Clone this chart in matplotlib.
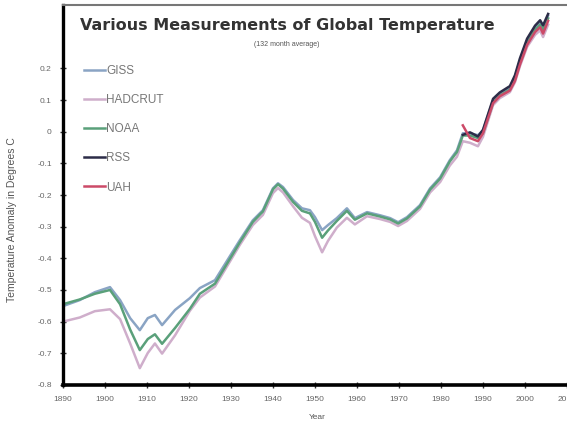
import matplotlib.pyplot as plt

# 132 month running averages
years = [1890.0, 1894.0, 1897.6, 1901.2, 1903.6, 1906.0, 1908.3, 1910.2, 1911.9, 1913.6,
         1916.7, 1920.2, 1922.6, 1926.2, 1932.1, 1935.2, 1937.6, 1940.0, 1941.2, 1942.4,
         1944.8, 1946.9, 1948.8, 1950.0, 1951.7, 1953.1, 1955.2, 1957.6, 1959.5, 1962.4,
         1965.5, 1967.9, 1969.8, 1971.9, 1975.0, 1977.4, 1979.8, 1982.1, 1983.8, 1985.2,
         1986.9, 1988.8, 1990.0, 1992.4, 1994.0, 1996.4, 1997.6, 1998.8, 2000.5, 2002.4,
         2003.6, 2004.3, 2005.5]

giss = [-0.551, -0.532, -0.507, -0.491, -0.532, -0.589, -0.627, -0.589, -0.579, -0.611,
        -0.563, -0.526, -0.494, -0.469, -0.343, -0.280, -0.248, -0.179, -0.163, -0.175,
        -0.216, -0.242, -0.248, -0.270, -0.311, -0.295, -0.273, -0.242, -0.273, -0.254,
        -0.264, -0.273, -0.286, -0.270, -0.232, -0.179, -0.144, -0.090, -0.059, -0.005,
        -0.005, -0.011, 0.004, 0.099, 0.121, 0.140, 0.172, 0.225, 0.288, 0.329,
        0.345, 0.329, 0.367]

hadcrut = [-0.600, -0.587, -0.567, -0.561, -0.592, -0.669, -0.747, -0.699, -0.669, -0.701,
           -0.643, -0.566, -0.524, -0.489, -0.358, -0.295, -0.263, -0.194, -0.178, -0.192,
           -0.236, -0.272, -0.288, -0.330, -0.381, -0.345, -0.303, -0.272, -0.293, -0.267,
           -0.276, -0.285, -0.298, -0.282, -0.244, -0.192, -0.159, -0.107, -0.079, -0.030,
           -0.035, -0.046, -0.016, 0.084, 0.106, 0.125, 0.156, 0.207, 0.268, 0.306,
           0.320, 0.299, 0.338]

noaa = [-0.545, -0.530, -0.512, -0.500, -0.545, -0.625, -0.690, -0.655, -0.640, -0.670,
        -0.620, -0.560, -0.512, -0.480, -0.350, -0.285, -0.252, -0.182, -0.166, -0.180,
        -0.222, -0.250, -0.258, -0.285, -0.335, -0.312, -0.282, -0.250, -0.278, -0.258,
        -0.268, -0.277, -0.290, -0.274, -0.236, -0.183, -0.148, -0.094, -0.064, -0.012,
        -0.012, -0.020, -0.004, 0.092, 0.114, 0.133, 0.165, 0.218, 0.280, 0.322,
        0.338, 0.322, 0.358]

sat_years = [1985.2, 1986.9, 1988.8, 1990.0, 1992.4, 1994.0, 1996.4, 1997.6, 1998.8,
             2000.5, 2002.4, 2003.6, 2004.3, 2005.5]
rss = [-0.010, -0.002, -0.015, 0.006, 0.104, 0.124, 0.144, 0.178, 0.232,
       0.294, 0.335, 0.352, 0.336, 0.372]
uah = [0.020, -0.020, -0.030, -0.005, 0.090, 0.112, 0.130, 0.160, 0.212,
       0.274, 0.315, 0.330, 0.310, 0.350]

xticks = list(range(1890, 2011, 10))
yticks = [-0.8, -0.7, -0.6, -0.5, -0.4, -0.3, -0.2, -0.1, 0, 0.1, 0.2]
ytick_labels = ['-0.8', '-0.7', '-0.6', '-0.5', '-0.4', '-0.3', '-0.2', '-0.1', '0', '0.1', '0.2']

plt.rcParams['font.family'] = ['Liberation Sans', 'DejaVu Sans']

fig = plt.figure(figsize=(5.67, 4.23), dpi=100)
ax = fig.add_axes([0.111, 0.09, 0.889, 0.898])

ax.plot(years, giss, color='#8aa4c4', lw=1.8, label='GISS')
ax.plot(years, hadcrut, color='#cfaecb', lw=1.8, label='HADCRUT')
ax.plot(years, noaa, color='#5aa07a', lw=1.8, label='NOAA')
ax.plot(sat_years, rss, color='#2c2c48', lw=1.8, label='RSS')
ax.plot(sat_years, uah, color='#cc4a68', lw=1.8, label='UAH')

ax.set_xlim(1890, 2010)
ax.set_ylim(-0.8, 0.4)
ax.set_xticks(xticks)
ax.set_xticklabels([str(y) for y in xticks], fontsize=6, color='#666666')
ax.set_yticks(yticks)
ax.set_yticklabels(ytick_labels, fontsize=6, color='#666666')
ax.tick_params(direction='inout', length=4, width=1, color='#333333', pad=6)

ax.spines['right'].set_visible(False)
ax.spines['left'].set_linewidth(2.4)
ax.spines['bottom'].set_linewidth(2.6)
ax.spines['top'].set_linewidth(1.5)
ax.spines['top'].set_color('#777777')

ax.text(0.445, 0.945, 'Various Measurements of Global Temperature', transform=ax.transAxes,
        ha='center', va='center', fontsize=11.5, fontweight='bold', color='#333333',
        family='DejaVu Sans')
ax.text(0.445, 0.897, '(132 month average)', transform=ax.transAxes,
        ha='center', va='center', fontsize=5, color='#555555')

leg = ax.legend(loc='upper left', bbox_to_anchor=(0.02, 0.87), frameon=False,
                fontsize=8.5, handlelength=1.8, handletextpad=0.1, labelspacing=1.45)
for t in leg.get_texts():
    t.set_color('#777777')

fig.text(0.021, 0.48, 'Temperature Anomaly in Degrees C', rotation=90,
         ha='center', va='center', fontsize=7.5, color='#555555')
fig.text(0.56, 0.012, 'Year', ha='center', va='center', fontsize=6, color='#555555')

fig.savefig('out.png', dpi=100)
